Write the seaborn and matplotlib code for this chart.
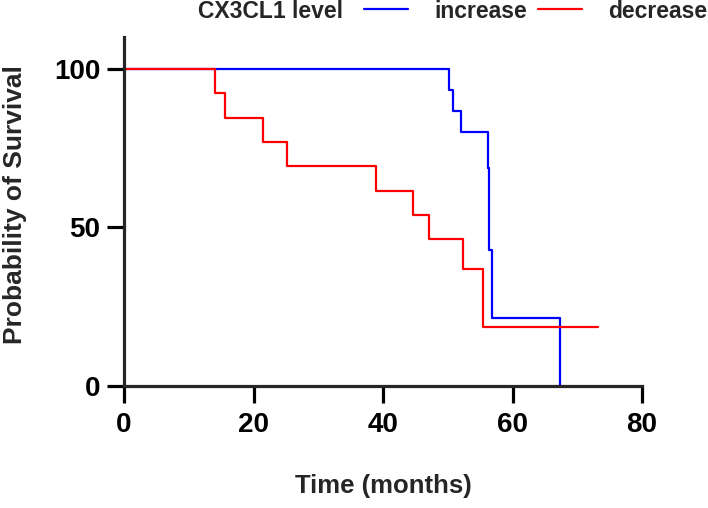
import matplotlib
matplotlib.use('Agg')
import pandas as pd
import matplotlib.pyplot as plt
import seaborn as sns

# Kaplan-Meier steps (months, % surviving)
increase_time = [0, 50.2, 50.8, 52.0, 56.2, 56.3, 56.4, 56.8, 67.4]
increase_surv = [100, 93.3, 86.7, 80.0, 68.6, 57.1, 42.9, 21.4, 0]
decrease_time = [0, 14.0, 15.6, 21.4, 25.1, 38.9, 44.6, 47.1, 52.3, 55.5, 73.2]
decrease_surv = [100, 92.3, 84.6, 76.9, 69.2, 61.5, 53.8, 46.2, 36.9, 18.5, 18.5]

groups = ['increase', 'decrease']
colors = ['#0000FF', '#FF0000']
x_ticks = [0, 20, 40, 60, 80]
y_ticks = [0, 50, 100]

df = pd.concat([
    pd.DataFrame({'time': increase_time, 'surv': increase_surv, 'group': 'increase'}),
    pd.DataFrame({'time': decrease_time, 'surv': decrease_surv, 'group': 'decrease'}),
], ignore_index=True)

sns.set_style('ticks')
plt.rcParams['font.family'] = ['Liberation Sans', 'DejaVu Sans']
plt.rcParams['font.weight'] = 'bold'

fig = plt.figure(figsize=(7.08, 5.08), dpi=100)
ax = fig.add_axes([124 / 708, 1 - 386 / 508, 518 / 708, 349 / 508])

sns.lineplot(data=df, x='time', y='surv', hue='group', hue_order=groups,
             palette=colors, estimator=None, sort=False, drawstyle='steps-post',
             linewidth=1.6, legend=False, ax=ax)

ax.set_xlim(0, 80)
ax.set_ylim(0, 110)
ax.set_xticks(x_ticks)
ax.set_yticks(y_ticks)
sns.despine(ax=ax)
for side in ['left', 'bottom']:
    ax.spines[side].set_linewidth(2.3)
ax.tick_params(axis='both', direction='out', length=12, width=2.3,
               labelsize=20, colors='black')
ax.tick_params(axis='x', pad=7)
ax.tick_params(axis='y', pad=5)
for lab in ax.get_xticklabels() + ax.get_yticklabels():
    lab.set_fontweight('bold')

ax.set_xlabel('Time (months)', fontsize=18.5, fontweight='bold')
ax.set_ylabel('Probability of Survival', fontsize=19, fontweight='bold')
ax.xaxis.set_label_coords(0.5, -0.252)
ax.yaxis.set_label_coords(-0.188, 0.52)

# horizontal legend at the top, title on the left
fig.text(198 / 708, 1 - 18.5 / 508, 'CX3CL1 level', fontsize=16.5,
         fontweight='bold', va='baseline', ha='left')
handles = ax.get_lines()[:2]
fig.legend(handles, groups, loc='center left', ncol=2,
           bbox_to_anchor=(364 / 708, 1 - 11 / 508), frameon=False,
           borderpad=0, borderaxespad=0, handlelength=1.9,
           handletextpad=1.15, columnspacing=0.5,
           prop={'size': 16.5, 'weight': 'bold'})

fig.savefig('out.png', dpi=100)
